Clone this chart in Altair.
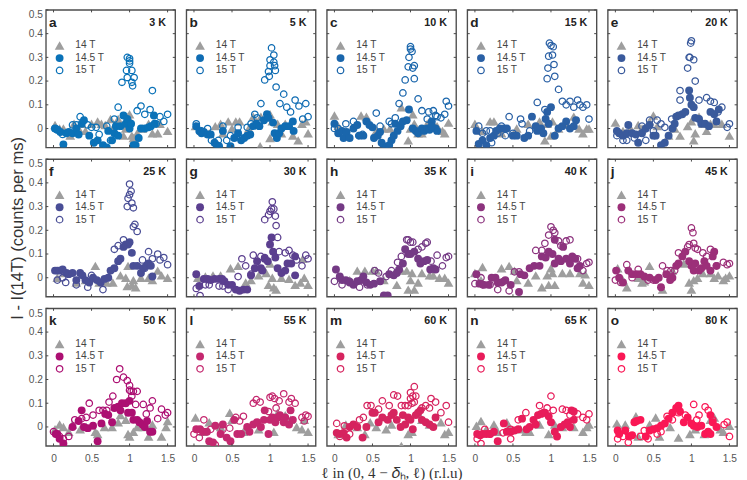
import altair as alt
import pandas as pd

letters = list("abcdefghijklmno")
temps = [3, 5, 10, 15, 20, 25, 30, 35, 40, 45, 50, 55, 60, 65, 80]
colors = ["#0a72b8", "#0f6cb3", "#1a66ac", "#2a60a5", "#3a5a9c", "#494e96", "#5b3f8f", "#743a85",
          "#8c337e", "#9c2f79", "#ac0f72", "#c4286f", "#d6245f", "#e81c5a", "#fa1755"]
x_ticks = [0, 0.5, 1, 1.5]
y_ticks = [0, 0.1, 0.2, 0.3, 0.4, 0.5]
legend_y = [0.35, 0.297, 0.245]
legend_names = ["14 T", "14.5 T", "15 T"]

# (ell, counts), one list per panel and field
a_14 = [(0.02,0.015),(0.08,0.0),(0.13,0.0),(0.22,-0.03),(0.27,0.02),(0.33,0.0),(0.37,0.02),(0.42,-0.01),(0.5,0.02),(0.58,0.03),(0.63,0.02),(0.68,0.015),(0.75,0.04),(0.78,0.0),(0.85,0.04),(0.92,-0.03),(0.95,0.0),(0.98,0.05),(1.0,0.06),(1.03,-0.03),(1.05,-0.04),(1.1,-0.02),(1.17,0.0),(1.25,0.02),(1.3,-0.02),(1.37,-0.02),(1.4,0.02),(1.5,-0.01)]
a_145 = [(0.02,0.0),(0.05,-0.005),(0.09,-0.015),(0.13,-0.067),(0.17,-0.02),(0.2,-0.015),(0.25,-0.02),(0.3,0.0),(0.33,-0.025),(0.37,0.02),(0.4,0.035),(0.47,-0.03),(0.53,-0.06),(0.58,-0.05),(0.65,-0.07),(0.7,-0.08),(0.72,-0.01),(0.77,-0.05),(0.8,-0.02),(0.82,0.01),(0.85,-0.03),(0.88,0.01),(0.92,0.055),(0.95,0.02),(0.97,0.04),(1.0,0.0),(1.02,0.02),(1.05,-0.07),(1.08,-0.07),(1.12,-0.04),(1.15,0.0),(1.2,0.0),(1.25,0.005),(1.28,0.01),(1.32,0.055),(1.33,0.02)]
a_15 = [(0.02,0.0),(0.05,-0.005),(0.12,-0.025),(0.25,0.015),(0.3,0.015),(0.35,0.05),(0.45,0.015),(0.5,0.005),(0.56,0.005),(0.6,-0.025),(0.7,0.01),(0.75,-0.05),(0.8,0.04),(0.85,0.09),(0.9,0.195),(0.97,0.215),(0.96,0.245),(0.97,0.3),(1.0,0.295),(1.0,0.285),(1.0,0.275),(1.03,0.195),(1.03,0.245),(1.06,0.215),(1.04,0.18),(1.1,0.075),(1.15,0.095),(1.2,0.06),(1.27,0.08),(1.3,0.16),(1.35,0.02),(1.4,0.05),(1.45,0.03),(1.5,0.06)]
b_14 = [(0.02,0.01),(0.1,-0.01),(0.2,-0.02),(0.28,0.01),(0.35,0.02),(0.38,-0.02),(0.45,0.03),(0.5,0.0),(0.55,0.03),(0.6,0.03),(0.72,0.0),(0.78,0.05),(0.88,0.05),(0.87,-0.075),(1.0,0.06),(1.03,0.03),(1.0,-0.04),(1.1,0.02),(1.15,-0.02),(1.2,0.02),(1.3,-0.03),(1.37,-0.05),(1.42,0.02),(1.47,0.03),(1.5,-0.02)]
b_145 = [(0.03,0.01),(0.07,-0.01),(0.1,-0.02),(0.13,-0.015),(0.18,-0.025),(0.22,-0.025),(0.27,-0.06),(0.3,-0.07),(0.33,-0.075),(0.38,-0.01),(0.48,-0.075),(0.53,-0.04),(0.58,-0.02),(0.62,-0.05),(0.66,-0.04),(0.7,-0.03),(0.74,-0.025),(0.78,0.01),(0.82,0.02),(0.86,0.01),(0.92,0.035),(0.96,0.06),(0.98,0.045),(1.04,0.025),(1.06,-0.02),(1.09,-0.04),(1.12,-0.02),(1.15,0.0),(1.2,0.01),(1.25,0.01),(1.3,0.03),(1.31,-0.01)]
b_15 = [(0.03,0.02),(0.1,-0.01),(0.18,0.0),(0.23,-0.05),(0.32,-0.05),(0.38,0.01),(0.43,-0.05),(0.48,-0.03),(0.58,0.005),(0.7,0.005),(0.75,0.02),(0.8,0.06),(0.83,0.045),(0.88,0.105),(0.93,0.205),(0.98,0.24),(0.99,0.22),(1.0,0.265),(1.0,0.29),(1.02,0.34),(1.05,0.31),(1.05,0.28),(1.06,0.265),(1.07,0.245),(1.08,0.175),(1.13,0.105),(1.18,0.145),(1.22,0.09),(1.27,0.07),(1.33,0.12),(1.38,0.095),(1.43,0.04),(1.47,0.105),(1.5,0.05)]
c_14 = [(0.0,0.055),(0.05,0.01),(0.35,0.055),(0.42,0.05),(0.55,-0.01),(0.65,0.0),(0.73,0.0),(0.88,0.09),(0.97,-0.05),(1.0,0.0),(1.03,0.06),(1.05,0.02),(1.1,-0.02),(1.15,-0.02),(1.22,0.02),(1.3,0.02),(1.35,0.01),(1.42,-0.01),(1.45,-0.02),(1.5,0.025)]
c_145 = [(0.0,0.02),(0.05,-0.02),(0.1,-0.01),(0.12,-0.04),(0.16,-0.015),(0.2,-0.04),(0.25,0.0),(0.3,0.015),(0.33,-0.03),(0.38,-0.03),(0.42,0.03),(0.46,0.015),(0.5,0.005),(0.52,-0.04),(0.57,-0.03),(0.6,-0.015),(0.62,-0.06),(0.65,-0.075),(0.68,-0.08),(0.72,-0.07),(0.75,-0.05),(0.78,-0.03),(0.8,0.02),(0.83,-0.01),(0.87,0.01),(0.9,0.03),(0.95,0.035),(0.98,0.08),(1.03,0.0),(1.07,-0.01),(1.1,-0.02),(1.15,0.0),(1.18,-0.01),(1.22,0.0),(1.25,-0.005),(1.28,0.03),(1.33,0.0),(1.35,-0.01),(1.28,0.01)]
c_15 = [(0.0,0.0),(0.05,0.0),(0.15,0.02),(0.25,0.03),(0.32,-0.03),(0.37,-0.025),(0.55,0.065),(0.6,0.01),(0.72,0.03),(0.75,0.02),(0.8,0.045),(0.85,0.105),(0.9,0.15),(0.93,0.205),(0.97,0.26),(0.98,0.3),(1.0,0.345),(1.0,0.335),(1.02,0.325),(1.05,0.265),(1.03,0.255),(1.05,0.21),(1.1,0.125),(1.15,0.075),(1.22,0.04),(1.24,0.07),(1.3,0.075),(1.33,0.055),(1.35,0.05),(1.4,0.045),(1.45,0.06),(1.47,0.115),(1.5,0.095)]
d_14 = [(0.0,0.02),(0.1,-0.01),(0.2,0.03),(0.25,0.03),(0.3,0.0),(0.35,-0.02),(0.55,0.0),(0.7,0.02),(0.85,0.03),(0.92,-0.05),(0.95,0.02),(1.0,-0.03),(1.02,0.03),(1.1,0.0),(1.2,0.02),(1.3,0.05),(1.37,0.0),(1.42,-0.02),(1.47,0.0),(1.5,0.0)]
d_145 = [(0.02,-0.01),(0.05,-0.065),(0.1,-0.05),(0.15,-0.07),(0.2,-0.04),(0.25,-0.03),(0.28,-0.01),(0.33,0.0),(0.38,0.0),(0.42,0.0),(0.5,-0.03),(0.55,-0.03),(0.65,-0.04),(0.7,-0.03),(0.75,0.05),(0.8,0.01),(0.82,-0.01),(0.87,0.0),(0.9,-0.02),(0.93,0.04),(0.95,0.07),(1.0,0.09),(0.97,0.02),(1.05,-0.03),(1.1,0.0),(1.15,0.01),(1.2,0.03),(1.25,0.0),(1.3,0.01),(1.33,0.035)]
d_15 = [(0.05,0.01),(0.1,-0.02),(0.15,-0.01),(0.2,-0.01),(0.22,-0.06),(0.3,-0.02),(0.35,0.01),(0.4,-0.03),(0.45,0.05),(0.5,-0.02),(0.6,0.04),(0.62,0.02),(0.72,-0.01),(0.8,0.0),(0.82,0.11),(0.92,0.08),(0.95,0.21),(0.96,0.255),(0.97,0.305),(0.98,0.36),(1.0,0.35),(1.02,0.31),(1.03,0.345),(1.04,0.27),(1.05,0.22),(1.1,0.165),(1.15,0.115),(1.2,0.1),(1.25,0.115),(1.3,0.09),(1.35,0.12),(1.38,0.1),(1.42,0.09),(1.47,0.1),(1.5,0.04)]
e_14 = [(0.0,0.025),(0.1,-0.01),(0.2,0.0),(0.3,0.015),(0.35,0.0),(0.45,0.03),(0.5,0.055),(0.55,0.01),(0.7,-0.03),(0.78,0.0),(0.85,-0.03),(0.95,0.01),(1.0,0.03),(1.03,-0.05),(1.05,-0.02),(1.1,0.05),(1.15,0.02),(1.2,-0.01),(1.25,0.02),(1.3,0.02),(1.4,0.02),(1.5,-0.03)]
e_145 = [(0.02,-0.01),(0.05,-0.02),(0.1,-0.03),(0.15,-0.02),(0.17,0.015),(0.22,-0.02),(0.27,-0.025),(0.3,-0.06),(0.35,-0.02),(0.4,0.0),(0.45,0.015),(0.5,-0.03),(0.53,-0.03),(0.6,-0.07),(0.65,-0.06),(0.7,-0.03),(0.75,0.0),(0.78,0.02),(0.8,0.05),(0.83,0.055),(0.88,0.06),(0.92,0.07),(0.97,0.16),(0.98,0.13),(1.0,0.1),(1.03,0.09),(1.05,0.045),(1.1,0.04),(1.13,0.02),(1.18,0.02),(1.23,0.01),(1.25,0.07),(1.3,0.06),(1.33,0.03),(1.36,0.08)]
e_15 = [(0.02,-0.03),(0.1,-0.05),(0.15,-0.05),(0.25,-0.04),(0.35,0.01),(0.4,-0.05),(0.45,0.035),(0.5,-0.01),(0.55,0.035),(0.6,0.02),(0.65,0.005),(0.74,0.04),(0.85,0.16),(0.85,0.12),(0.95,0.255),(0.97,0.3),(0.98,0.3),(0.99,0.36),(1.0,0.37),(1.03,0.29),(1.05,0.2),(1.1,0.12),(1.2,0.13),(1.25,0.115),(1.3,0.11),(1.35,0.07),(1.4,0.09),(1.47,0.005),(1.5,0.02)]
f_14 = [(0.05,0.0),(0.15,0.02),(0.3,-0.02),(0.42,-0.01),(0.5,0.0),(0.55,0.05),(0.6,-0.02),(0.7,-0.02),(0.78,-0.02),(0.88,0.01),(0.95,0.0),(0.98,0.05),(0.97,-0.035),(1.03,-0.03),(1.05,-0.01),(1.08,-0.04),(1.15,0.0),(1.25,0.0),(1.3,-0.01),(1.37,0.03),(1.42,0.01),(1.5,0.0)]
f_145 = [(0.02,0.03),(0.05,0.03),(0.08,0.03),(0.12,0.035),(0.17,0.02),(0.2,0.015),(0.25,0.02),(0.3,-0.01),(0.35,0.02),(0.38,0.01),(0.42,-0.01),(0.47,-0.02),(0.52,0.0),(0.57,-0.01),(0.62,-0.02),(0.67,-0.005),(0.72,0.0),(0.75,0.03),(0.8,0.04),(0.85,0.07),(0.88,0.08),(0.92,0.13),(0.95,0.14),(0.98,0.14),(1.0,0.15),(1.03,0.105),(1.05,0.05),(1.1,0.05),(1.15,0.02),(1.18,0.04),(1.22,0.05),(1.25,0.06),(1.28,0.05),(1.3,0.005)]
f_15 = [(0.05,-0.01),(0.12,0.0),(0.16,-0.02),(0.3,-0.03),(0.45,-0.04),(0.5,0.01),(0.65,-0.05),(0.8,0.12),(0.85,0.135),(0.92,0.16),(0.97,0.3),(0.98,0.335),(1.0,0.35),(1.0,0.395),(1.02,0.365),(1.03,0.315),(1.05,0.295),(1.05,0.215),(1.07,0.225),(1.1,0.195),(1.17,0.075),(1.2,0.04),(1.25,0.11),(1.3,0.08),(1.37,0.1),(1.4,0.075),(1.45,0.085),(1.5,0.055)]
g_14 = [(0.05,0.0),(0.15,0.005),(0.25,0.01),(0.35,0.01),(0.48,0.04),(0.58,0.05),(0.68,-0.02),(0.75,-0.01),(0.85,0.01),(0.95,0.02),(0.98,-0.03),(1.0,0.06),(1.03,0.0),(1.05,-0.04),(1.08,-0.05),(1.15,0.0),(1.25,-0.005),(1.33,-0.03),(1.4,-0.02),(1.45,0.0),(1.5,-0.03),(1.43,0.08)]
g_145 = [(0.03,0.015),(0.07,-0.035),(0.13,-0.005),(0.18,-0.005),(0.22,-0.01),(0.27,-0.005),(0.33,-0.005),(0.37,-0.005),(0.4,-0.015),(0.45,-0.03),(0.5,-0.03),(0.55,-0.05),(0.6,-0.055),(0.65,-0.05),(0.7,-0.05),(0.75,0.01),(0.8,0.04),(0.83,0.07),(0.88,0.04),(0.9,0.03),(0.93,0.08),(0.97,0.07),(1.0,0.14),(1.02,0.17),(1.04,0.11),(1.07,0.085),(1.1,0.04),(1.15,0.02),(1.2,0.03),(1.23,0.06),(1.28,0.06),(1.33,0.09),(1.33,0.01)]
g_15 = [(0.03,-0.045),(0.08,-0.075),(0.15,-0.03),(0.2,-0.03),(0.33,-0.035),(0.38,-0.035),(0.45,-0.05),(0.58,0.005),(0.63,0.08),(0.68,0.05),(0.75,0.015),(0.78,0.095),(0.88,0.09),(0.93,0.085),(0.93,0.245),(0.98,0.265),(1.0,0.28),(1.02,0.29),(1.03,0.32),(1.05,0.29),(1.07,0.26),(1.08,0.22),(1.1,0.17),(1.12,0.11),(1.2,0.105),(1.25,0.115),(1.3,0.095),(1.35,0.075),(1.42,0.05),(1.47,0.095),(1.5,0.08)]
h_14 = [(0.1,0.0),(0.2,-0.01),(0.3,0.03),(0.4,0.03),(0.5,0.03),(0.55,0.03),(0.65,-0.01),(0.82,-0.03),(0.88,0.03),(0.95,0.03),(0.97,-0.05),(1.0,-0.01),(1.02,0.02),(1.05,-0.05),(1.1,-0.02),(1.15,0.02),(1.25,0.01),(1.3,0.01),(1.38,0.0),(1.45,0.0),(1.5,-0.02)]
h_145 = [(0.02,0.035),(0.07,0.005),(0.1,-0.01),(0.15,-0.01),(0.2,-0.02),(0.25,-0.03),(0.3,-0.015),(0.35,-0.01),(0.38,0.005),(0.42,-0.02),(0.47,-0.03),(0.52,-0.025),(0.6,-0.015),(0.65,-0.075),(0.7,-0.075),(0.72,0.015),(0.78,0.01),(0.82,0.02),(0.85,0.035),(0.9,0.06),(0.93,0.12),(0.97,0.1),(1.0,0.1),(1.05,0.11),(1.1,0.08),(1.13,0.06),(1.18,0.07),(1.22,0.075),(1.26,0.035),(1.3,0.04),(1.33,0.035)]
h_15 = [(0.0,-0.015),(0.1,-0.03),(0.2,-0.015),(0.33,-0.04),(0.43,-0.03),(0.53,0.03),(0.58,0.02),(0.68,0.005),(0.75,0.03),(0.83,0.065),(0.88,0.09),(0.95,0.16),(0.97,0.16),(1.0,0.15),(1.03,0.15),(1.1,0.12),(1.15,0.13),(1.2,0.145),(1.22,0.15),(1.27,0.07),(1.35,0.095),(1.42,0.05),(1.47,0.085),(1.5,0.09)]
i_14 = [(0.0,0.02),(0.1,0.045),(0.08,-0.01),(0.35,0.04),(0.45,0.05),(0.52,0.03),(0.55,-0.01),(0.7,-0.02),(0.8,0.01),(0.88,-0.04),(0.95,0.01),(0.97,-0.03),(1.0,0.04),(1.02,0.02),(1.05,-0.03),(1.15,0.02),(1.25,0.02),(1.38,0.02),(1.42,-0.02),(1.45,0.015),(1.5,-0.03)]
i_145 = [(0.02,0.015),(0.06,-0.025),(0.12,-0.03),(0.18,-0.03),(0.22,0.0),(0.27,0.0),(0.3,-0.02),(0.35,-0.02),(0.4,-0.01),(0.47,-0.03),(0.58,-0.06),(0.6,0.015),(0.65,0.01),(0.72,0.04),(0.78,0.05),(0.85,0.05),(0.88,0.09),(0.93,0.085),(0.97,0.11),(1.02,0.1),(1.05,0.16),(1.1,0.08),(1.13,0.07),(1.2,0.08),(1.25,0.06),(1.28,0.09),(1.32,0.08),(1.38,0.05),(1.35,0.04),(1.05,0.06),(1.16,0.13)]
i_15 = [(0.0,-0.025),(0.08,0.0),(0.1,-0.03),(0.2,-0.03),(0.3,-0.05),(0.38,-0.015),(0.45,-0.055),(0.52,0.025),(0.58,0.025),(0.8,0.115),(0.88,0.115),(0.92,0.145),(0.97,0.18),(1.0,0.215),(1.03,0.2),(1.05,0.19),(1.1,0.155),(1.13,0.135),(1.2,0.155),(1.25,0.16),(1.35,0.08),(1.42,0.03),(1.47,0.06),(1.5,0.065)]
j_14 = [(0.03,0.04),(0.1,-0.01),(0.15,-0.04),(0.3,0.0),(0.35,-0.02),(0.38,-0.015),(0.45,0.05),(0.62,-0.05),(0.75,0.03),(0.9,0.06),(1.0,-0.05),(0.97,-0.02),(1.03,-0.01),(1.08,0.0),(1.15,0.02),(1.25,0.02),(1.3,0.0),(1.35,0.01),(1.42,-0.01),(1.45,0.0),(1.5,0.01)]
j_145 = [(0.01,0.03),(0.05,0.0),(0.1,-0.02),(0.17,0.03),(0.22,0.015),(0.28,0.015),(0.33,0.015),(0.38,0.005),(0.45,0.0),(0.53,-0.01),(0.57,0.0),(0.6,-0.04),(0.67,0.015),(0.72,-0.01),(0.75,0.0),(0.8,0.05),(0.83,0.06),(0.88,0.09),(0.92,0.11),(0.97,0.07),(1.0,0.05),(1.03,0.03),(1.05,0.06),(1.1,0.03),(1.13,0.04),(1.17,0.07),(1.2,0.05),(1.25,0.03),(1.28,0.09),(1.3,0.11),(1.33,0.05)]
j_15 = [(0.0,-0.01),(0.07,-0.02),(0.15,0.055),(0.22,0.0),(0.3,0.035),(0.43,-0.01),(0.5,-0.01),(0.62,0.05),(0.68,0.03),(0.73,0.03),(0.78,0.03),(0.83,0.105),(0.95,0.13),(0.97,0.14),(1.0,0.21),(1.02,0.19),(1.03,0.145),(1.05,0.125),(1.08,0.12),(1.15,0.105),(1.2,0.09),(1.25,0.12),(1.33,0.05),(1.42,0.065),(1.47,0.055),(1.5,0.06)]
k_14 = [(0.02,-0.01),(0.08,0.01),(0.13,0.0),(0.2,-0.02),(0.25,0.01),(0.35,-0.01),(0.43,0.0),(0.55,-0.02),(0.58,-0.03),(0.67,0.0),(0.77,0.0),(0.85,0.02),(0.88,0.05),(0.95,0.03),(0.98,-0.03),(1.0,-0.04),(1.05,-0.02),(1.1,0.0),(1.18,0.0),(1.25,-0.04),(1.3,0.01),(1.42,-0.04),(1.48,0.0),(1.5,0.025)]
k_145 = [(0.03,-0.03),(0.05,-0.03),(0.08,-0.05),(0.13,-0.07),(0.25,0.0),(0.33,0.025),(0.37,0.07),(0.4,0.0),(0.45,-0.005),(0.52,0.005),(0.58,-0.06),(0.63,0.015),(0.68,0.055),(0.72,0.05),(0.77,0.02),(0.8,0.08),(0.85,0.085),(0.88,0.07),(0.9,0.1),(0.95,0.1),(1.0,0.11),(0.98,0.06),(1.03,0.06),(1.05,0.03),(1.1,0.03),(1.13,0.02),(1.17,0.01),(1.2,0.0),(1.23,0.025),(1.27,-0.02),(1.3,-0.02)]
k_15 = [(0.0,-0.02),(0.08,-0.04),(0.13,-0.05),(0.2,-0.04),(0.28,0.03),(0.37,0.035),(0.43,0.04),(0.47,0.1),(0.52,0.05),(0.6,0.07),(0.65,0.07),(0.7,0.07),(0.73,0.105),(0.78,0.13),(0.83,0.2),(0.87,0.245),(0.92,0.21),(0.97,0.195),(1.0,0.175),(1.0,0.155),(1.02,0.15),(1.03,0.13),(1.05,0.15),(1.1,0.15),(1.08,0.095),(1.18,0.095),(1.22,0.055),(1.27,0.08),(1.3,0.11),(1.37,0.035),(1.42,0.075),(1.47,0.05),(1.5,0.06)]
l_14 = [(0.02,0.04),(0.2,0.02),(0.12,-0.02),(0.35,0.0),(0.47,0.06),(0.5,0.03),(0.65,-0.02),(0.7,0.0),(0.85,-0.01),(1.05,-0.02),(1.1,0.06),(1.2,0.05),(1.27,0.03),(1.35,0.0),(1.42,-0.01),(1.45,0.03),(1.5,-0.02)]
l_145 = [(0.03,-0.01),(0.08,-0.01),(0.12,-0.02),(0.17,-0.02),(0.2,-0.06),(0.25,-0.065),(0.28,0.005),(0.35,-0.03),(0.38,0.01),(0.43,-0.045),(0.48,-0.06),(0.53,0.03),(0.57,-0.03),(0.62,-0.03),(0.7,0.0),(0.73,-0.02),(0.78,0.01),(0.83,0.02),(0.88,0.0),(0.92,0.03),(0.93,0.07),(0.98,-0.03),(1.0,0.03),(1.03,0.04),(1.07,0.02),(1.1,0.04),(1.13,0.05),(1.18,0.02),(1.2,0.04),(1.25,0.01),(1.27,0.07),(1.3,0.03)]
l_15 = [(0.0,-0.03),(0.07,-0.045),(0.13,0.03),(0.22,-0.01),(0.28,-0.075),(0.38,-0.01),(0.47,-0.005),(0.55,0.04),(0.6,0.025),(0.65,0.045),(0.78,0.1),(0.82,0.115),(0.87,0.105),(0.98,0.065),(1.0,0.125),(1.03,0.13),(1.06,0.12),(1.08,0.08),(1.12,0.11),(1.18,0.14),(1.25,0.105),(1.28,0.12),(1.33,0.1),(1.42,0.04),(1.45,0.025),(1.47,0.05),(1.5,0.045)]
m_14 = [(0.05,-0.03),(0.15,0.01),(0.3,0.0),(0.4,-0.03),(0.47,0.02),(0.55,0.0),(0.68,-0.01),(0.75,0.01),(0.88,-0.08),(0.97,-0.03),(1.02,-0.02),(1.1,0.06),(1.15,0.03),(1.25,0.01),(1.4,0.02),(1.45,-0.03),(1.5,-0.02)]
m_145 = [(0.03,-0.025),(0.07,-0.03),(0.12,-0.025),(0.16,-0.045),(0.2,0.0),(0.25,0.01),(0.3,0.0),(0.37,-0.045),(0.42,0.0),(0.5,0.06),(0.53,0.06),(0.58,0.02),(0.63,0.04),(0.7,0.03),(0.75,0.05),(0.78,0.06),(0.82,0.03),(0.87,0.0),(0.9,0.05),(0.93,0.01),(0.97,0.04),(1.0,0.03),(1.03,-0.01),(1.07,0.05),(1.1,0.06),(1.15,0.03),(1.2,0.02),(1.25,0.01),(1.3,0.0),(1.33,0.04),(1.13,0.07)]
m_15 = [(0.03,0.015),(0.07,-0.04),(0.13,0.005),(0.2,-0.03),(0.33,0.03),(0.38,0.04),(0.43,0.09),(0.48,0.09),(0.58,0.075),(0.63,0.11),(0.72,0.09),(0.78,0.135),(0.83,0.13),(0.88,0.09),(0.93,0.09),(0.97,0.09),(1.0,0.145),(1.0,0.12),(1.02,0.1),(1.03,0.13),(1.05,0.105),(1.05,0.17),(1.07,0.13),(1.15,0.08),(1.2,0.09),(1.25,0.08),(1.27,0.12),(1.33,0.105),(1.4,0.06),(1.47,0.09),(1.5,0.02)]
n_14 = [(0.02,0.005),(0.08,0.025),(0.15,-0.01),(0.25,0.01),(0.3,-0.02),(0.42,0.02),(0.45,0.0),(0.6,-0.01),(0.67,-0.02),(0.72,-0.02),(0.85,0.01),(0.97,-0.03),(1.05,0.01),(1.15,0.0),(1.3,0.0),(1.42,-0.02),(1.47,0.0),(1.5,0.01)]
n_145 = [(0.03,-0.03),(0.07,-0.035),(0.1,-0.03),(0.15,-0.03),(0.2,-0.03),(0.25,-0.02),(0.3,-0.06),(0.38,0.015),(0.42,-0.02),(0.47,-0.02),(0.52,-0.015),(0.57,-0.01),(0.62,0.035),(0.68,-0.01),(0.72,0.0),(0.77,0.03),(0.8,0.01),(0.83,0.05),(0.87,0.055),(0.92,0.06),(0.97,0.045),(1.0,0.02),(1.05,-0.02),(1.08,-0.04),(1.13,0.0),(1.18,0.01),(1.22,0.02),(1.27,0.07),(1.3,0.065),(1.3,0.03),(1.25,0.0)]
n_15 = [(0.03,-0.05),(0.08,-0.07),(0.13,-0.01),(0.2,-0.03),(0.37,-0.025),(0.47,-0.05),(0.47,-0.01),(0.57,0.03),(0.67,0.06),(0.85,0.09),(0.9,0.06),(0.95,0.08),(1.0,0.13),(1.03,0.07),(1.15,0.075),(1.2,0.07),(1.25,0.05),(1.35,0.055),(1.42,0.04),(1.47,0.03),(1.5,0.055)]
o_14 = [(0.02,0.015),(0.13,0.01),(0.27,0.045),(0.3,-0.04),(0.45,0.01),(0.53,0.04),(0.58,-0.04),(0.72,0.0),(0.83,-0.045),(0.98,-0.03),(1.05,-0.01),(1.17,-0.03),(1.25,0.03),(1.3,0.04),(1.38,-0.01),(1.42,-0.02),(1.5,0.005)]
o_145 = [(0.03,-0.015),(0.05,-0.03),(0.13,-0.015),(0.18,-0.04),(0.22,-0.035),(0.25,0.02),(0.28,0.025),(0.33,0.03),(0.4,-0.04),(0.45,-0.015),(0.5,-0.01),(0.55,-0.005),(0.6,0.005),(0.65,0.015),(0.7,0.035),(0.75,0.06),(0.8,0.08),(0.83,0.09),(0.85,0.065),(0.9,0.02),(0.95,0.04),(1.0,0.015),(1.03,0.005),(1.08,0.0),(1.13,0.005),(1.18,-0.03),(1.22,-0.02),(1.25,0.05),(1.28,0.02),(1.33,0.0),(1.25,-0.03)]
o_15 = [(0.03,-0.05),(0.1,-0.04),(0.17,-0.065),(0.33,-0.04),(0.38,-0.015),(0.43,-0.05),(0.55,-0.03),(0.6,-0.02),(0.68,0.045),(0.75,0.03),(0.83,0.06),(0.92,0.05),(1.03,0.095),(1.07,0.03),(1.1,0.05),(1.18,0.085),(1.22,0.07),(1.28,0.03),(1.43,0.01),(1.47,0.02),(1.5,-0.04)]

series_14 = [a_14, b_14, c_14, d_14, e_14, f_14, g_14, h_14, i_14, j_14, k_14, l_14, m_14, n_14, o_14]
series_145 = [a_145, b_145, c_145, d_145, e_145, f_145, g_145, h_145, i_145, j_145, k_145, l_145, m_145, n_145, o_145]
series_15 = [a_15, b_15, c_15, d_15, e_15, f_15, g_15, h_15, i_15, j_15, k_15, l_15, m_15, n_15, o_15]

AXIS_GRAY = "#555555"
W, H = 133, 141.5
TRI_SIZE, FULL_SIZE, OPEN_SIZE = 100, 66, 44


def frame(pairs):
    return pd.DataFrame(pairs, columns=["ell", "counts"])


def make_panel(i):
    col, row = i % 5, i // 5
    color = colors[i]
    x_enc = alt.X(
        "ell:Q",
        scale=alt.Scale(domain=[-0.1, 1.6], nice=False, zero=False),
        axis=alt.Axis(
            values=x_ticks, format="~g", labels=row == 2, ticks=False, domain=False, grid=False,
            labelColor=AXIS_GRAY, labelFontSize=10.5, labelFont="Liberation Sans", labelPadding=8,
            title="ℓ in (0, 4 − 𝛿ₕ, ℓ) (r.l.u)" if i == 12 else None,
            titleFont="Liberation Serif", titleFontSize=15.5, titleFontWeight="normal", titleColor="#333333",
            titlePadding=2,
        ),
    )
    y_enc = alt.Y(
        "counts:Q",
        scale=alt.Scale(domain=[-0.08, 0.5], nice=False, zero=False),
        axis=alt.Axis(
            values=y_ticks, format="~g", labels=col == 0, ticks=False, domain=False, grid=False,
            labelFlush=True,
            labelColor=AXIS_GRAY, labelFontSize=10.5, labelFont="Liberation Sans", labelPadding=3.5,
            title="I - I(14T) (counts per ms)" if i == 5 else None,
            titleFont="Liberation Sans", titleFontSize=17, titleFontWeight="normal", titleColor="#333333",
            titlePadding=2,
        ),
    )

    tri = alt.Chart(frame(series_14[i])).mark_point(
        shape="triangle-up", filled=True, color="#9e9e9e", opacity=1, size=TRI_SIZE, clip=True
    ).encode(x=x_enc, y=y_enc)
    opened = alt.Chart(frame(series_15[i])).mark_point(
        shape="circle", filled=False, color=color, opacity=1, size=OPEN_SIZE, strokeWidth=1.3, clip=True
    ).encode(x=x_enc, y=y_enc)
    full = alt.Chart(frame(series_145[i])).mark_point(
        shape="circle", filled=True, color=color, opacity=1, size=FULL_SIZE, clip=True
    ).encode(x=x_enc, y=y_enc)

    xt = pd.DataFrame({"ell": x_ticks})
    yt = pd.DataFrame({"counts": y_ticks})
    tick_style = dict(color="#444444", strokeWidth=1)
    ticks = [
        alt.Chart(xt).mark_rule(**tick_style).encode(x=x_enc, y=alt.value(0), y2=alt.value(2.5)),
        alt.Chart(xt).mark_rule(**tick_style).encode(x=x_enc, y=alt.value(H), y2=alt.value(H - 2.5)),
        alt.Chart(yt).mark_rule(**tick_style).encode(y=y_enc, x=alt.value(0), x2=alt.value(2.5)),
        alt.Chart(yt).mark_rule(**tick_style).encode(y=y_enc, x=alt.value(W), x2=alt.value(W - 2.5)),
    ]

    key = pd.DataFrame({"ell": [0.08] * 3, "counts": legend_y, "name": legend_names})
    key_tri = alt.Chart(key.iloc[[0]]).mark_point(
        shape="triangle-up", filled=True, color="#9e9e9e", opacity=1, size=TRI_SIZE
    ).encode(x=x_enc, y=y_enc)
    key_full = alt.Chart(key.iloc[[1]]).mark_point(
        shape="circle", filled=True, color=color, opacity=1, size=FULL_SIZE
    ).encode(x=x_enc, y=y_enc)
    key_open = alt.Chart(key.iloc[[2]]).mark_point(
        shape="circle", filled=False, color=color, opacity=1, size=OPEN_SIZE, strokeWidth=1.3
    ).encode(x=x_enc, y=y_enc)
    key_text = alt.Chart(key.assign(ell=0.287)).mark_text(
        align="left", baseline="middle", fontSize=10.5, font="Liberation Sans", color="#444444"
    ).encode(x=x_enc, y=y_enc, text="name:N")

    head = pd.DataFrame({"ell": [-0.06], "counts": [0.445], "letter": [letters[i]], "temp": [f"{temps[i]} K"]})
    letter = alt.Chart(head).mark_text(
        align="left", baseline="middle", fontSize=14, fontWeight="bold", font="Liberation Sans", color="#222222"
    ).encode(x=x_enc, y=y_enc, text="letter:N")
    temp = alt.Chart(head.assign(ell=1.478)).mark_text(
        align="right", baseline="middle", fontSize=11, fontWeight="bold", font="Liberation Sans", color="#222222"
    ).encode(x=x_enc, y=y_enc, text="temp:N")

    return alt.layer(
        tri, opened, full, *ticks, key_tri, key_full, key_open, key_text, letter, temp
    ).properties(width=W, height=H)


panels = [make_panel(i) for i in range(15)]
chart = (
    alt.concat(*panels, columns=5, spacing={"column": 11.5, "row": 11.5}, bounds="flush")
    .configure_view(stroke="#4d4d4d", strokeWidth=1.4)
    .properties(padding={"left": 0, "top": -7, "right": 0, "bottom": 6})
)
chart.save("out.html", embed_options={"renderer": "svg", "actions": False})
